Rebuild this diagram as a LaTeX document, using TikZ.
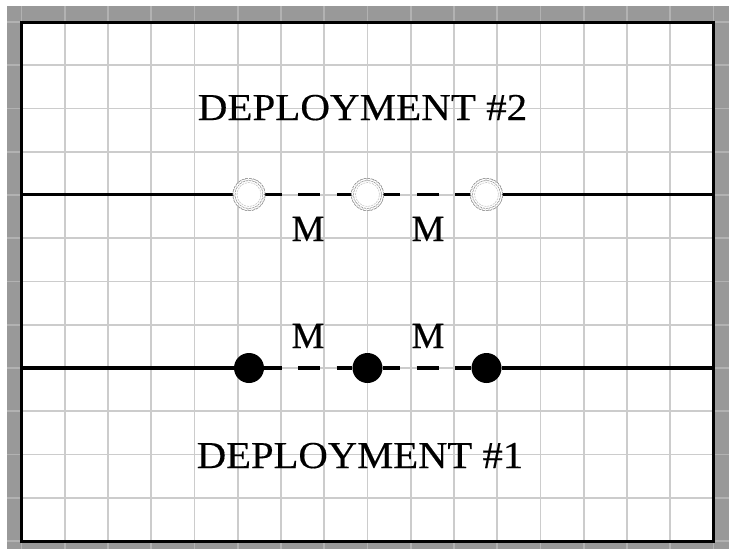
\documentclass[tikz,border=0pt]{standalone}
\usepackage{fontspec}
\setmainfont{Liberation Serif}[FakeBold=0.3]
\begin{document}
\begin{tikzpicture}[x=1pt,y=-1pt,
  gridline/.style={draw=gray!40,line width=1.6pt},
  outergrid/.style={draw=gray!60,line width=1.6pt},
  rail/.style={line width=3.4pt,black},
  gap/.style={line width=3.4pt,dash pattern={on 17.5pt off 16.5pt on 22pt off 16.5pt}},
  shade/.style={gap,draw=gray!55,shift={(2.5,3)}},
  fullpt/.style={circle,fill=black,minimum size=30pt,inner sep=0pt},
  openpt/.style={circle,fill=white,minimum size=30pt,inner sep=0pt,
    draw=gray!85,line width=0.7pt,dash pattern={on 2.5pt off 1pt},
    double=white,double distance=1.4pt},
  innerring/.style={circle,minimum size=24pt,inner sep=0pt,
    draw=gray!45,line width=0.6pt,dash pattern={on 2pt off 1pt}},
  title/.style={font=\fontsize{38}{40}\selectfont,anchor=base,inner sep=0pt},
  mark label/.style={font=\fontsize{37}{40}\selectfont,anchor=base,inner sep=0pt}]
\useasboundingbox (0,0) rectangle (729,549);
% outer border with its faint grid
\fill[white] (0,0) rectangle (729,549);
\fill[gray!80!white] (7,6) rectangle (729,549);
\foreach \i in {0,...,16} \draw[outergrid] ({21.5+43.25*\i},6) -- ({21.5+43.25*\i},549);
\foreach \j in {0,...,12} \draw[outergrid] (7,{22+43.25*\j}) -- (729,{22+43.25*\j});
% sheet
\fill[white] (21.5,22) rectangle (713.5,541);
\foreach \i in {1,...,15} \draw[gridline] ({21.5+43.25*\i},22) -- ({21.5+43.25*\i},541);
\foreach \j in {1,...,11} \draw[gridline] (21.5,{22+43.25*\j}) -- (713.5,{22+43.25*\j});
\draw[line width=3pt] (21.5,22) rectangle (713.5,541);

% deployment #2 (upper line, open points)
\coordinate (L2) at (21.5,194.5);
\coordinate (R2) at (713.5,194.5);
\node[openpt] (a2) at (249,194.5) {};
\node[openpt] (b2) at (367.5,194.5) {};
\node[openpt] (c2) at (486.5,194.5) {};
% deployment #1 (lower line, filled points)
\coordinate (L1) at (21.5,368);
\coordinate (R1) at (713.5,368);
\node[fullpt] (a1) at (249,368) {};
\node[fullpt] (b1) at (367.5,368) {};
\node[fullpt] (c1) at (486.5,368) {};

% shadows of the dashed gaps
\foreach \p/\q in {a2/b2,b2/c2,a1/b1,b1/c1}
  \draw[shade] (\p.east) -- (\q.west);
% solid rails
\draw[rail] (L2) -- (a2.west);
\draw[rail] (c2.east) -- (R2);
\draw[rail] (L1) -- (a1.west);
\draw[rail] (c1.east) -- (R1);
% dashed gaps
\foreach \p/\q in {a2/b2,b2/c2,a1/b1,b1/c1}
  \draw[gap] (\p.east) -- (\q.west);
% open points drawn above the lines, each with a faint inner ring
\foreach \p in {a2,b2,c2} {
  \node[openpt] at (\p) {};
  \node[innerring] at (\p) {};
}

% labels
\node[title] (t2) at (362.5,120) {\scalebox{1.08}[1]{DEPLOYMENT \#2}};
\node[title] (t1) at (360,468) {\scalebox{1.07}[1]{DEPLOYMENT \#1}};
\node[mark label] (m1) at (308,241) {M};
\node[mark label] (m2) at (428,241) {M};
\node[mark label] (m3) at (308,348) {M};
\node[mark label] (m4) at (428,348) {M};
\end{tikzpicture}
\end{document}
